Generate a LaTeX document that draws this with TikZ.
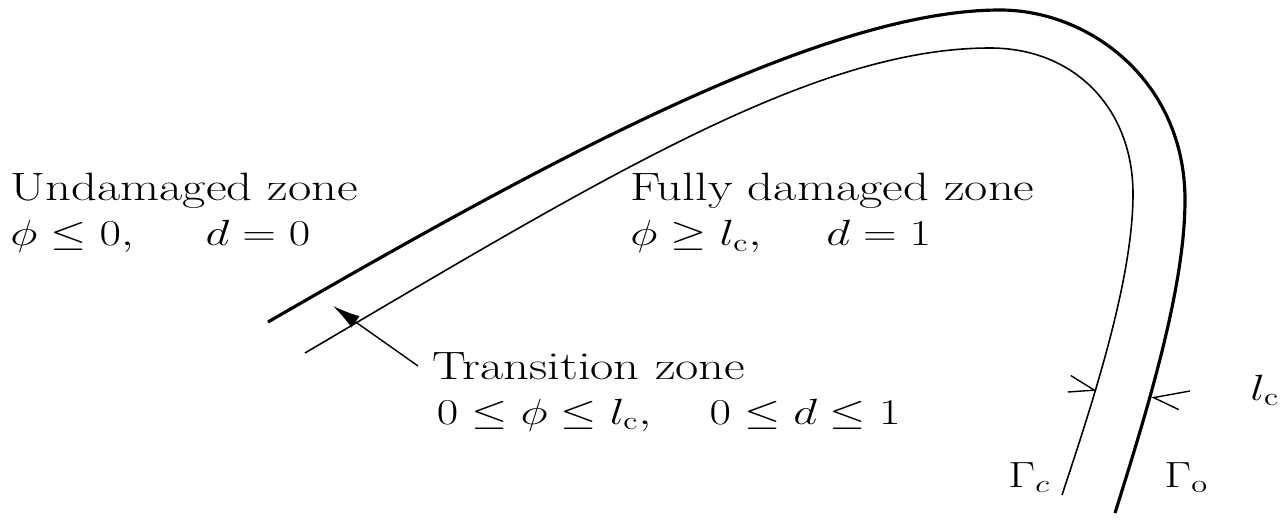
\documentclass[tikz,border=0pt]{standalone}
\usepackage{tikz}
\usetikzlibrary{arrows.meta, positioning, calc}

\begin{document}
\begin{tikzpicture}[
    zone/.style={anchor=north west, inner sep=0pt, align=left, xscale=1.28,
                 font=\fontsize{22.5}{25.6}\selectfont},
    curvelabel/.style={anchor=base west, inner sep=0pt, xscale=1.28,
                 font=\fontsize{22.5}{25.6}\selectfont},
    boundary/.style={line width=#1, line join=round},
    dimarrow/.style={line width=0.8pt, -{Straight Barb[harpoon, length=0.45cm, width=0.65cm]}}
]
    \useasboundingbox (0,0) rectangle (25.74,10.38);

    % outer boundary (thick) and inner boundary (thin)
    \draw[boundary=1.8pt] (5.36,3.94) .. controls (11.0,7.2) and (16.5,10.18) .. (20.0,10.18)
        .. controls (21.8,10.18) and (23.7,8.75) .. (23.7,6.38)
        .. controls (23.7,4.6) and (22.92,2.1) .. (22.3,0.12);
    \draw[boundary=0.9pt] (6.1,3.32) .. controls (12.13,6.87) and (16.3,9.42) .. (19.8,9.42)
        .. controls (21.5,9.42) and (22.66,8.2) .. (22.66,6.5)
        .. controls (22.66,4.8) and (21.87,2.38) .. (21.24,0.48);

    \node[zone] (undamaged) at (0.2,6.92) {Undamaged zone\\$\phi\leq 0,\quad\hspace{6pt} d=0$};
    \node[zone] (fully) at (12.6,6.92) {Fully damaged zone\\$\phi\geq l_{\mathrm{c}},\quad\hspace{3pt} d=1$};
    \node[zone] (transition) at (8.64,3.34)
        {Transition zone\\\hspace*{2pt}$0\leq\phi\leq l_{\mathrm{c}},\quad 0\leq d\leq 1$};

    \node[curvelabel] (lc) at (25.0,2.38) {$l_{\mathrm{c}}$};
    \node[curvelabel] (gammac) at (20.16,0.64) {$\Gamma_c$};
    \node[curvelabel] (gammao) at (23.28,0.64) {$\Gamma_{\mathrm{o}}$};

    \coordinate (tstart) at (8.36,3.06);
    \coordinate (ttip) at (6.66,4.26);
    \coordinate (lin) at (21.36,2.54);
    \coordinate (linTip) at (21.93,2.58);
    \coordinate (rin) at (23.8,2.56);
    \coordinate (rinTip) at (23.03,2.42);

    \draw[line width=0.8pt, -{Latex[length=0.55cm, width=0.28cm]}] (tstart) -- (ttip);
    \draw[dimarrow] (lin) -- (linTip);
    \draw[dimarrow] (rin) -- (rinTip);
\end{tikzpicture}
\end{document}
